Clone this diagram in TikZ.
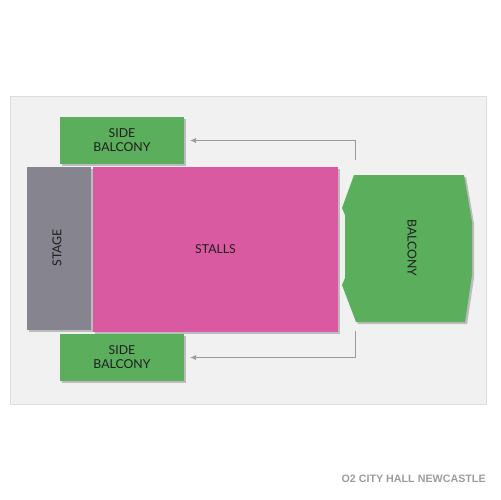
\documentclass[tikz,border=0pt]{standalone}
\usepackage{fontspec}
\setmainfont{Lato}
\newfontfamily\footfont{Liberation Sans}
\usetikzlibrary{shadows,arrows.meta}
\definecolor{bgpanel}{HTML}{F1F1F1}
\definecolor{panelline}{HTML}{DDDDDD}
\definecolor{seatgreen}{HTML}{5BAE5C}
\definecolor{seatpink}{HTML}{D95AA0}
\definecolor{stagegray}{HTML}{85848F}
\definecolor{linegray}{HTML}{9A9A9A}
\definecolor{labeltext}{HTML}{1E1E1E}
\definecolor{foottext}{HTML}{9C9C9C}
\tikzset{
  lbl/.style={font=\fontsize{7}{8}\selectfont, text=labeltext},
  sect/.style={lbl, inner sep=0pt, outer sep=0pt, align=center,
    drop shadow={shadow xshift=1.2pt, shadow yshift=-1.2pt, opacity=0.22, fill=black}},
  sidebal/.style={sect, fill=seatgreen, minimum width=2.48cm, minimum height=0.94cm},
  arr/.style={draw=linegray, line width=0.5pt, -{Latex[length=3.5pt,width=3pt]}, shorten >=6*0.02cm},
}
\begin{document}
\begin{tikzpicture}[x=0.02cm,y=-0.02cm]
\useasboundingbox (0,0) rectangle (500,500);
% panel
\fill[black!10] (11,97) rectangle (487,405);
\filldraw[fill=bgpanel, draw=panelline, line width=0.4pt] (10,96) rectangle (486,404);
% sections
\node[sidebal] (sbt) at (122,140.5) {SIDE\\BALCONY};
\node[sect, fill=stagegray, minimum width=1.28cm, minimum height=3.26cm] (stage) at (59,248.5) {};
\node[lbl, rotate=90] (stagelbl) at (57,248) {STAGE};
\node[sect, fill=seatpink, minimum width=4.9cm, minimum height=3.3cm] (stalls) at (215.5,249.5) {STALLS};
\node[sidebal] (sbb) at (122,357.5) {SIDE\\BALCONY};
% balcony
\path[fill=seatgreen, drop shadow={shadow xshift=1.2pt, shadow yshift=-1.2pt, opacity=0.22, fill=black}]
  (354,175) -- (464,175) -- (472,222) -- (472,275) -- (465,322) -- (356,322)
  -- (342,285) -- (345,278) -- (345,215) -- (342,208) -- cycle;
\node[lbl, rotate=-90] (ballbl) at (412,248) {BALCONY};
% connectors
\coordinate (ct) at (355,160);
\coordinate (cb) at (355,331);
\draw[arr] (ct) |- (sbt.east);
\draw[arr] (cb) |- (sbb.east);
% footer
\node[anchor=east, inner sep=0pt, font=\footfont\bfseries\fontsize{6.1}{7}\selectfont, text=foottext] (foot) at (486,479) {O2 CITY HALL NEWCASTLE};
\end{tikzpicture}
\end{document}
